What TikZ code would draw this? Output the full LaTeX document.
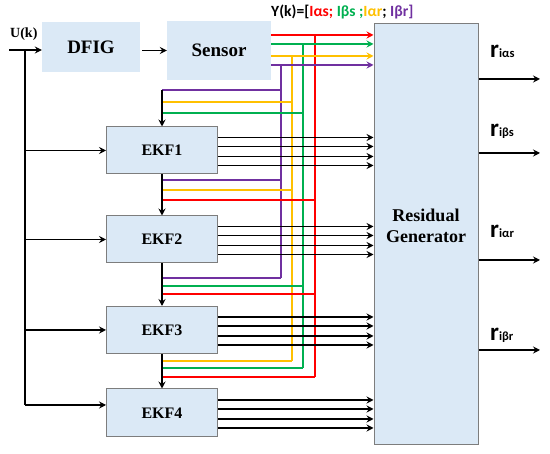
\documentclass[tikz,border=0pt]{standalone}
\usepackage{fontspec}
\setmainfont{Liberation Serif}
\newfontfamily\sigfont{Carlito}
\usetikzlibrary{arrows.meta}
\definecolor{boxFill}{RGB}{219, 233, 246}
\definecolor{boxEdge}{RGB}{125, 125, 125}
\definecolor{sigRed}{RGB}{255, 0, 0}
\definecolor{sigGreen}{RGB}{0, 176, 80}
\definecolor{sigYellow}{RGB}{255, 192, 0}
\definecolor{sigPurple}{RGB}{112, 48, 160}

\begin{document}
\begin{tikzpicture}[x=1pt, y=-1pt,
    block/.style={fill=boxFill, inner sep=0pt, font=\bfseries\fontsize{19}{21}\selectfont},
    ekfbox/.style={block, draw=boxEdge, line width=1pt, minimum width=111pt, minimum height=47pt, font=\bfseries\fontsize{16}{18}\selectfont},
    sig/.style={line width=1.8pt},
    feed/.style={line width=1.9pt, -{Stealth[length=7pt, width=7pt, inset=2.5pt]}},
    sigfeed/.style={sig, -{Stealth[length=7pt, width=7pt, inset=2.5pt]}},
    outlab/.style={anchor=base west, inner sep=0pt, font=\sigfont\bfseries}]
        \useasboundingbox (0,0) rectangle (550,454);
        \node[block, minimum width=98pt, minimum height=50pt] (dfig) at (91,47) {DFIG};
        \node[block, minimum width=104pt, minimum height=59pt] (sensor) at (219,50.5) {Sensor};
        \node[block, draw=boxEdge, line width=1pt, minimum width=104pt, minimum height=421pt] (res) at (426,234.5) {};
        \node[align=center, font=\bfseries\fontsize{18}{21}\selectfont] (reslab) at ([yshift=9pt]res.center) {Residual\\Generator};
        \node[ekfbox] (ekf1) at (162,150.5) {EKF1};
        \node[ekfbox] (ekf2) at (162,239.5) {EKF2};
        \node[ekfbox] (ekf3) at (162,330) {EKF3};
        \node[ekfbox, minimum height=48pt] (ekf4) at (162,413) {EKF4};
        \node[anchor=base west, inner sep=0pt, font=\bfseries\fontsize{14}{16}\selectfont] (ulab) at (10,38) {U(k)};
        \node[outlab, font=\sigfont\bfseries\fontsize{15.6}{17}\selectfont] (ylab) at (271,17) {Y(k)=[\textcolor{sigRed}{Iαs;} \textcolor{sigGreen}{Iβs ;}\textcolor{sigYellow}{Iαr}; \textcolor{sigPurple}{Iβr]}};

        \coordinate (uin) at (9,50);
        \coordinate (ubus) at (25,50);
        \coordinate (u4) at ([yshift=8pt]ekf4.west);
        \draw[feed] (uin) -- (dfig.west |- uin);
        \draw[line width=1.9pt] (ubus) -- (ubus |- u4);
        \foreach \k in {1,2,3}
            \draw[feed] (ubus |- ekf\k.west) -- (ekf\k.west);
        \draw[feed] (ubus |- u4) -- (u4);
        \draw[feed, shorten <=2pt] (dfig.east |- sensor) -- (sensor);

        \foreach \col/\y/\x/\yend in {sigRed/35/315/377, sigGreen/44/303/368, sigYellow/56/292/361, sigPurple/65/281/278} {
            \draw[sigfeed, \col] (sensor.east |- 0,\y) -- (res.west |- 0,\y);
            \draw[sig, \col] (\x,\y) -- (\x,\yend);
        }
        \foreach \col/\x/\y in {sigPurple/281/90, sigYellow/292/102, sigGreen/303/113, sigPurple/281/180, sigYellow/292/190, sigRed/315/200, sigPurple/281/278, sigGreen/303/286, sigRed/315/294, sigYellow/292/361, sigGreen/303/368, sigRed/315/377}
            \draw[sig, \col] (162,\y) -- (\x,\y);

        \coordinate (chain) at (162,90);
        \draw[feed] (chain) -- (ekf1.north);
        \draw[feed] (ekf1.south) -- (ekf2.north);
        \draw[feed] (ekf2.south) -- (ekf3.north);
        \draw[feed] (ekf3.south) -- (ekf4.north);

        \foreach \k in {1,...,4}
            \foreach \dy in {13,4,-6,-15} {
                \path ([yshift=\dy pt]ekf\k.east) coordinate (p);
                \draw[feed] (p) -- (res.west |- p);
            }

        \foreach \y/\yl/\name/\sub in {79/58/ras/iαs, 153/137/rbs/iβs, 260/238/rar/iαr, 350/341/rbr/iβr} {
            \coordinate (\name) at (540,\y);
            \draw[feed] (res.east |- \name) -- (\name);
            \node[outlab] at (490,\yl) {\fontsize{25}{25}\selectfont r\fontsize{12.5}{12.5}\selectfont\sub};
        }
\end{tikzpicture}
\end{document}
